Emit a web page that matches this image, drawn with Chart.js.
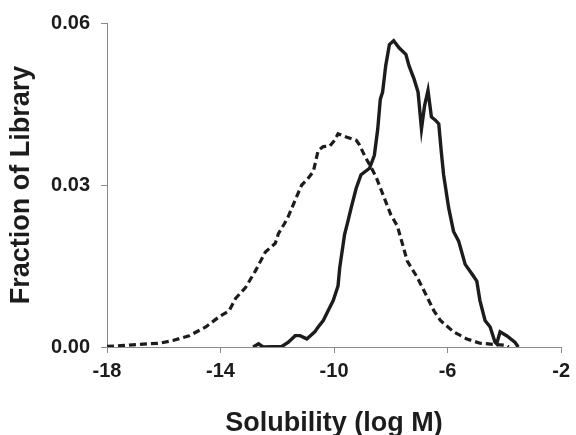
<!DOCTYPE html>
<html>
<head>
<meta charset="utf-8">
<script src="https://cdn.jsdelivr.net/npm/chart.js@4/dist/chart.umd.min.js"></script>
<style>
  html, body { margin: 0; padding: 0; background: #ffffff; }
  #wrap { width: 576px; height: 435px; }
</style>
</head>
<body>
<div id="wrap"><canvas id="c" width="576" height="435"></canvas></div>
<script>
// Distribution of predicted solubility (log M) across two libraries
const dashedX = [-18.0, -17.4, -16.85, -16.15, -15.68, -15.1, -14.52, -14.05, -13.7, -13.47,
  -13.12, -12.77, -12.42, -12.07, -11.96, -11.73, -11.61, -11.37, -11.14, -10.95,
  -10.73, -10.56, -10.38, -10.15, -9.98, -9.86, -9.57, -9.22, -9.1, -8.93,
  -8.72, -8.52, -8.23, -8.0, -7.77, -7.65, -7.42, -7.07, -6.83, -6.48,
  -6.25, -5.79, -5.32, -4.86, -4.4, -3.92, -3.85];
const dashedY = [0.0001, 0.0003, 0.0005, 0.0007, 0.0012, 0.0021, 0.0037, 0.0056, 0.0067, 0.0090,
  0.0110, 0.0141, 0.0176, 0.0192, 0.0210, 0.0230, 0.0242, 0.0272, 0.0300, 0.0310,
  0.0325, 0.0364, 0.0371, 0.0372, 0.0383, 0.0395, 0.0389, 0.0383, 0.0374, 0.0355,
  0.0335, 0.0315, 0.0276, 0.0245, 0.0224, 0.0202, 0.0159, 0.0129, 0.0104, 0.0067,
  0.0049, 0.0028, 0.0015, 0.0007, 0.0005, 0.0003, 0.0];

const solidX = [-12.85, -12.66, -12.5, -11.84, -11.61, -11.37, -11.2, -10.96, -10.68, -10.56,
  -10.38, -10.21, -10.03, -9.86, -9.8, -9.63, -9.51, -9.4, -9.22, -9.05,
  -8.75, -8.58, -8.46, -8.37, -8.29, -8.18, -8.05, -7.9, -7.71, -7.47,
  -7.36, -7.18, -7.04, -6.92, -6.81, -6.69, -6.57, -6.43, -6.31, -6.22,
  -6.14, -5.96, -5.79, -5.61, -5.38, -5.14, -4.97, -4.86, -4.68, -4.5,
  -4.33, -4.27, -4.15, -3.92, -3.63, -3.51];
const solidY = [0.0, 0.0006, 0.0, 0.0001, 0.0009, 0.0021, 0.0021, 0.0015, 0.0028, 0.0037,
  0.0049, 0.0067, 0.0086, 0.0113, 0.0147, 0.0208, 0.0233, 0.0257, 0.0294, 0.0319,
  0.0331, 0.0355, 0.0404, 0.0459, 0.0472, 0.0521, 0.0560, 0.0567, 0.0554, 0.0542,
  0.0521, 0.0496, 0.0472, 0.0404, 0.0447, 0.0475, 0.0426, 0.0420, 0.0413, 0.0361,
  0.0319, 0.0257, 0.0214, 0.0196, 0.0153, 0.0135, 0.0122, 0.0086, 0.0049, 0.0037,
  0.0009, 0.0006, 0.0028, 0.0021, 0.0009, 0.0];

const xTicks = [-18, -14, -10, -6, -2];
const yTicks = [0.00, 0.03, 0.06];

const xTitle = 'Solubility (log M)';
const yTitle = 'Fraction of Library';

const toPoints = (xs, ys) => xs.map((x, i) => ({ x: x, y: ys[i] }));

const ink = '#1c1c1c';
const axisGray = '#8a8a8a';
const fontFamily = '"Liberation Sans", Arial, Helvetica, sans-serif';

new Chart(document.getElementById('c'), {
  type: 'line',
  data: {
    datasets: [
      {
        label: 'dashed',
        data: toPoints(dashedX, dashedY),
        borderColor: ink,
        borderWidth: 3.2,
        borderDash: [7, 4],
        pointRadius: 0,
        tension: 0,
        fill: false
      },
      {
        label: 'solid',
        data: toPoints(solidX, solidY),
        borderColor: ink,
        borderWidth: 3.4,
        pointRadius: 0,
        tension: 0,
        fill: false
      }
    ]
  },
  options: {
    responsive: false,
    animation: false,
    devicePixelRatio: 1,
    layout: { padding: { left: 0, top: 20, right: 11, bottom: 0 } },
    plugins: { legend: { display: false }, tooltip: { enabled: false } },
    scales: {
      x: {
        type: 'linear',
        min: -18,
        max: -2,
        afterBuildTicks: (s) => { s.ticks = xTicks.map(v => ({ value: v })); },
        afterFit: (s) => { s.height = 88; },
        ticks: {
          color: ink,
          padding: 6,
          font: { family: fontFamily, size: 20, weight: 'bold' },
          callback: (v) => String(v)
        },
        grid: { drawOnChartArea: false, drawTicks: true, tickLength: 6, color: axisGray },
        border: { display: true, color: axisGray, width: 1 },
        title: {
          display: true,
          text: xTitle,
          color: ink,
          padding: 0,
          font: { family: fontFamily, size: 27, weight: 'bold', lineHeight: 0.85 }
        }
      },
      y: {
        type: 'linear',
        min: 0,
        max: 0.06,
        afterBuildTicks: (s) => { s.ticks = yTicks.map(v => ({ value: v })); },
        afterFit: (s) => { s.width = 107; },
        ticks: {
          color: ink,
          padding: 11,
          font: { family: fontFamily, size: 20, weight: 'bold' },
          callback: (v) => Number(v).toFixed(2)
        },
        grid: { drawOnChartArea: false, drawTicks: true, tickLength: 6, color: axisGray },
        border: { display: true, color: axisGray, width: 1 },
        title: {
          display: true,
          text: yTitle,
          color: ink,
          padding: { top: 5, bottom: 0 },
          font: { family: fontFamily, size: 27, weight: 'bold', lineHeight: 1.2 }
        }
      }
    }
  }
});
</script>
</body>
</html>
